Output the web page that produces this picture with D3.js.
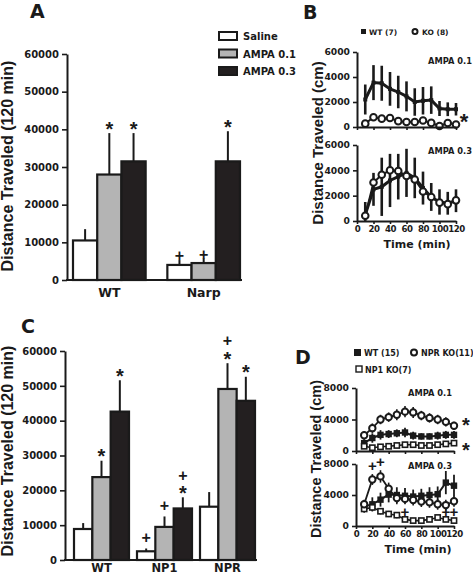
<!DOCTYPE html>
<html><head><meta charset="utf-8">
<script src="https://cdn.jsdelivr.net/npm/d3@7"></script>
<style>
body{margin:0;background:#fff}
svg{display:block}
text{font-family:"DejaVu Sans",sans-serif;font-weight:bold;fill:#1a1a1a}
text.ttl,text.sym{font-family:"Liberation Sans",Arial,sans-serif}
</style></head><body>
<svg id="c" width="473" height="576"></svg>
<script>
// ---------- DATA ----------
const treatments = ["Saline", "AMPA 0.1", "AMPA 0.3"];
const fills = ["#ffffff", "#b4b4b4", "#231f20"];

// Panel A (Narp)
const aGroups = ["WT", "Narp"];
const aSaline = [10500, 4000], aAmpa01 = [28000, 4500], aAmpa03 = [31500, 31500];
const aSalineErr = [3000, 1300], aAmpa01Err = [11000, 1200], aAmpa03Err = [7500, 8000];
const aSalineSig = ["", "+"], aAmpa01Sig = ["*", "+"], aAmpa03Sig = ["*", "*"];
const aTicks = [0, 10000, 20000, 30000, 40000, 50000, 60000];

// Panel C (NP1 / NPR)
const cGroups = ["WT", "NP1", "NPR"];
const cSaline = [8900, 2500, 15300], cAmpa01 = [23800, 9500, 49100], cAmpa03 = [42600, 14800, 45700];
const cSalineErr = [1700, 800, 4200], cAmpa01Err = [4700, 3000, 7400], cAmpa03Err = [9000, 3200, 6900];
const cSalineSig = ["", "+", ""], cAmpa01Sig = ["*", "+", "+*"], cAmpa03Sig = ["*", "+*", "*"];
const cTicks = [0, 10000, 20000, 30000, 40000, 50000, 60000];

// Time course
const times = [10, 20, 30, 40, 50, 60, 70, 80, 90, 100, 110, 120];
const timeTicks = [0, 20, 40, 60, 80, 100, 120];

// Panel B
const bTicks = [0, 2000, 4000, 6000];
const bWT01 = [2200, 3550, 3500, 3050, 2800, 2450, 2000, 2100, 2150, 1480, 1420, 1420];
const bWT01Err = [1200, 1400, 1400, 1350, 1300, 1200, 1100, 1100, 1100, 600, 550, 500];
const bKO01 = [270, 780, 670, 720, 470, 400, 400, 520, 330, 80, 320, 200];
const bKO01Err = [150, 200, 150, 150, 150, 150, 150, 150, 150, 100, 150, 100];
const bWT03 = [500, 2500, 2700, 3200, 3500, 3800, 3400, 2600, 1900, 1500, 1400, 1600];
const bWT03Err = [1000, 1300, 2300, 2100, 1800, 1900, 1600, 1300, 1100, 1000, 900, 900];
const bKO03 = [420, 3040, 3650, 4000, 3950, 3550, 3280, 2330, 1900, 1450, 1330, 1630];
const bKO03Err = [200, 300, 300, 300, 300, 300, 300, 300, 300, 300, 300, 300];
const bStarValue = 750;

// Panel D
const dTicks = [0, 4000, 8000];
const dNPR01 = [2000, 2900, 4000, 4300, 4600, 5000, 4900, 4500, 4200, 4000, 3700, 3200];
const dNPR01Err = [500, 600, 600, 600, 700, 700, 700, 600, 600, 600, 600, 500];
const dWT01 = [1000, 1650, 2050, 2150, 2250, 2350, 1950, 1850, 1850, 1950, 2050, 2050];
const dWT01Err = [500, 600, 600, 500, 500, 600, 500, 400, 400, 500, 500, 500];
const dNP101 = [600, 420, 530, 600, 700, 800, 800, 700, 700, 800, 900, 1000];
const dNP101Err = [300, 250, 250, 250, 250, 300, 300, 250, 250, 300, 300, 300];
const dNPR03 = [2800, 6000, 6400, 4800, 3600, 3500, 3350, 3150, 3050, 2800, 2700, 3200];
const dNPR03Err = [600, 700, 800, 800, 800, 700, 700, 700, 700, 700, 700, 700];
const dWT03 = [2500, 2800, 3400, 4050, 4000, 3900, 3800, 3900, 4000, 4100, 5600, 5200];
const dWT03Err = [700, 900, 900, 1000, 1000, 1000, 900, 900, 1000, 1000, 1500, 1400];
const dNP103 = [2200, 2400, 1900, 1550, 1400, 850, 700, 700, 850, 1100, 850, 700];
const dNP103Err = [500, 500, 400, 400, 400, 300, 300, 300, 300, 300, 300, 300];
const dStarValues = [3900, 700];
// significance marks in D (AMPA 0.3): time and value
const dPlusTimes = [20, 30, 60, 110, 120];
const dPlusValues = [7800, 8300, 1900, 1900, 1900];

// ---------- DRAW ----------
const svg = d3.select("#c");
const INK = "#1a1a1a";

function styleAxis(g, fs) {
  g.select(".domain").attr("stroke", INK).attr("stroke-width", 2);
  g.selectAll(".tick line").attr("stroke", INK).attr("stroke-width", 1.6);
  g.selectAll("text").style("font-size", fs + "px").attr("fill", INK);
}

function sig(g, x, yTop, str, plusGap) {
  let cur = yTop;
  const chars = str.split("").reverse();
  chars.forEach((ch, i) => {
    if (ch === "*") {
      const c = cur - 9;
      g.append("text").attr("class", "sym").attr("x", x).attr("y", c + 11.5)
        .attr("text-anchor", "middle").style("font-size", "20px").text("*");
      cur = c - 6;
    } else {
      const c = (i === 0) ? cur - plusGap : cur - 7;
      g.append("text").attr("class", "sym").attr("x", x).attr("y", c + 5.3)
        .attr("text-anchor", "middle").style("font-size", "16px").text("+");
      cur = c - 6;
    }
  });
}

function barPanel(groups, means, errs, sigs, yDom, yRange, xRange, padIn, axisX, ticks, labelY, labelFs, plusGap) {
  const g = svg.append("g");
  const y = d3.scaleLinear().domain(yDom).range(yRange);
  const x0 = d3.scaleBand().domain(groups).range(xRange).paddingInner(padIn);
  const x1 = d3.scaleBand().domain(treatments).range([0, x0.bandwidth()]);
  treatments.forEach((t, ti) => {
    groups.forEach((grp, gi) => {
      const v = means[ti][gi], e = errs[ti][gi];
      const xc = x0(grp) + x1(t) + x1.bandwidth() / 2;
      g.append("line").attr("x1", xc).attr("x2", xc).attr("y1", y(v)).attr("y2", y(v + e))
        .attr("stroke", INK).attr("stroke-width", 2);
      g.append("rect").attr("x", x0(grp) + x1(t)).attr("width", x1.bandwidth())
        .attr("y", y(v)).attr("height", y(0) - y(v))
        .attr("fill", fills[ti]).attr("stroke", INK).attr("stroke-width", 2.2);
      if (sigs[ti][gi]) sig(g, xc, y(v + e), sigs[ti][gi], plusGap);
    });
  });
  const ya = g.append("g").attr("transform", `translate(${axisX},0)`)
    .call(d3.axisLeft(y).tickValues(ticks).tickSize(5).tickSizeOuter(0).tickFormat(d3.format("d")));
  styleAxis(ya, 10);
  g.append("line").attr("x1", axisX - 1).attr("x2", xRange[1] + 2).attr("y1", y(0)).attr("y2", y(0))
    .attr("stroke", INK).attr("stroke-width", 2.2);
  groups.forEach(grp => {
    g.append("text").attr("x", x0(grp) + x0.bandwidth() / 2).attr("y", labelY)
      .attr("text-anchor", "middle").style("font-size", labelFs + "px").text(grp);
  });
  return g;
}

// Panel A
barPanel(aGroups, [aSaline, aAmpa01, aAmpa03], [aSalineErr, aAmpa01Err, aAmpa03Err],
  [aSalineSig, aAmpa01Sig, aAmpa03Sig], [0, 60000], [280, 54], [73, 240], 0.23, 67, aTicks, 297, 12.5, 4);
svg.append("text").attr("class", "ttl").attr("transform", "translate(13,166) rotate(-90)")
  .attr("text-anchor", "middle").style("font-size", "16px").text("Distance Traveled (120 min)");
svg.append("text").attr("x", 30).attr("y", 18).style("font-size", "19px").text("A");
treatments.forEach((t, i) => {
  const cy = 36 + i * 17.5;
  svg.append("rect").attr("x", 219).attr("y", cy - 4).attr("width", 18).attr("height", 8)
    .attr("fill", fills[i]).attr("stroke", INK).attr("stroke-width", 2);
  svg.append("text").attr("x", 243).attr("y", cy + 4).style("font-size", "10px").text(t);
});

// Panel C
barPanel(cGroups, [cSaline, cAmpa01, cAmpa03], [cSalineErr, cAmpa01Err, cAmpa03Err],
  [cSalineSig, cAmpa01Sig, cAmpa03Sig], [0, 60000], [560, 351], [74, 255], 0.127, 65, cTicks, 572, 11.5, 11);
svg.append("text").attr("class", "ttl").attr("transform", "translate(13,451) rotate(-90)")
  .attr("text-anchor", "middle").style("font-size", "16px").text("Distance Traveled (120 min)");
svg.append("text").attr("x", 21).attr("y", 333).style("font-size", "19px").text("C");

// ---------- time-course panels ----------
function marker(g, type, x, y, sz) {
  if (type === "circle") {
    g.append("circle").attr("cx", x).attr("cy", y).attr("r", sz)
      .attr("fill", "#fff").attr("stroke", INK).attr("stroke-width", 2);
  } else if (type === "fsquare") {
    g.append("rect").attr("x", x - sz).attr("y", y - sz).attr("width", 2 * sz).attr("height", 2 * sz)
      .attr("fill", INK);
  } else if (type === "osquare") {
    g.append("rect").attr("x", x - sz).attr("y", y - sz).attr("width", 2 * sz).attr("height", 2 * sz)
      .attr("fill", "#fff").attr("stroke", INK).attr("stroke-width", 1.6);
  }
}

function timeSub(x, y, ticks, showLabels, series, fs) {
  const g = svg.append("g");
  series.forEach(s => {
    times.forEach((t, i) => {
      g.append("line").attr("x1", x(t)).attr("x2", x(t))
        .attr("y1", y(Math.max(0, s.m[i] - s.e[i]))).attr("y2", y(s.m[i] + s.e[i]))
        .attr("stroke", INK).attr("stroke-width", s.ew);
    });
  });
  series.forEach(s => {
    g.append("path").datum(s.m)
      .attr("d", d3.line().x((d, i) => x(times[i])).y(d => y(d)))
      .attr("fill", "none").attr("stroke", INK).attr("stroke-width", s.lw);
  });
  series.forEach(s => {
    times.forEach((t, i) => marker(g, s.type, x(t), y(s.m[i]), s.sz));
  });
  const ya = g.append("g").attr("transform", `translate(${x(0)},0)`)
    .call(d3.axisLeft(y).tickValues(ticks).tickSize(4).tickSizeOuter(0).tickFormat(d3.format("d")));
  styleAxis(ya, 9.2);
  const xa = g.append("g").attr("transform", `translate(0,${y(0)})`)
    .call(d3.axisBottom(x).tickValues(timeTicks).tickSize(3).tickSizeOuter(0)
      .tickFormat(showLabels ? d3.format("d") : ""));
  styleAxis(xa, 8.6);
  xa.selectAll("text").attr("dy", "0.55em").style("letter-spacing", "-0.45px");
  return g;
}

// Panel B
const xB = d3.scaleLinear().domain([0, 120]).range([357, 456]);
const yB1 = d3.scaleLinear().domain([0, 6000]).range([127, 52]);
const yB2 = d3.scaleLinear().domain([0, 6000]).range([221, 145]);
timeSub(xB, yB1, bTicks, false, [
  { m: bWT01, e: bWT01Err, type: "fsquare", sz: 2, lw: 3, ew: 2.6 },
  { m: bKO01, e: bKO01Err, type: "circle", sz: 3.3, lw: 2, ew: 1.5 }
]);
timeSub(xB, yB2, bTicks, true, [
  { m: bWT03, e: bWT03Err, type: "fsquare", sz: 2, lw: 3, ew: 2.6 },
  { m: bKO03, e: bKO03Err, type: "circle", sz: 3.3, lw: 2, ew: 1.5 }
]);
svg.append("text").attr("x", 303).attr("y", 19).style("font-size", "19px").text("B");
svg.append("text").attr("class", "ttl").attr("transform", "translate(323,143) rotate(-90)")
  .attr("text-anchor", "middle").style("font-size", "15px").text("Distance Traveled (cm)");
svg.append("text").attr("x", 417).attr("y", 248).attr("text-anchor", "middle")
  .style("font-size", "11px").text("Time (min)");
svg.append("text").attr("x", 472).attr("y", 64).attr("text-anchor", "end").style("font-size", "8.3px").text("AMPA 0.1");
svg.append("text").attr("x", 472).attr("y", 154).attr("text-anchor", "end").style("font-size", "8.3px").text("AMPA 0.3");
svg.append("text").attr("class", "sym").attr("x", 464).attr("y", yB1(bStarValue) + 11).attr("text-anchor", "middle")
  .style("font-size", "22px").text("*");
svg.append("rect").attr("x", 361).attr("y", 29).attr("width", 5).attr("height", 5).attr("fill", INK);
svg.append("text").attr("x", 369).attr("y", 34.5).style("font-size", "7.5px").text("WT (7)");
svg.append("circle").attr("cx", 415).attr("cy", 31.5).attr("r", 2.5).attr("fill", "#fff").attr("stroke", INK).attr("stroke-width", 2);
svg.append("text").attr("x", 422).attr("y", 34.5).style("font-size", "7.5px").text("KO (8)");

// Panel D
const xD = d3.scaleLinear().domain([0, 120]).range([356, 454]);
const yD1 = d3.scaleLinear().domain([0, 8000]).range([451, 388]);
const yD2 = d3.scaleLinear().domain([0, 8000]).range([526, 464]);
timeSub(xD, yD1, dTicks, false, [
  { m: dWT01, e: dWT01Err, type: "fsquare", sz: 3.2, lw: 2, ew: 1.8 },
  { m: dNP101, e: dNP101Err, type: "osquare", sz: 2.6, lw: 1.6, ew: 1.5 },
  { m: dNPR01, e: dNPR01Err, type: "circle", sz: 3.2, lw: 1.8, ew: 1.6 }
]);
timeSub(xD, yD2, dTicks, true, [
  { m: dWT03, e: dWT03Err, type: "fsquare", sz: 3.2, lw: 2, ew: 1.8 },
  { m: dNP103, e: dNP103Err, type: "osquare", sz: 2.6, lw: 1.6, ew: 1.5 },
  { m: dNPR03, e: dNPR03Err, type: "circle", sz: 3.2, lw: 1.8, ew: 1.6 }
]);
dPlusTimes.forEach((t, i) => {
  svg.append("text").attr("class", "sym").attr("x", xD(t)).attr("y", yD2(dPlusValues[i]) + 5.3)
    .attr("text-anchor", "middle").style("font-size", "15px").text("+");
});
svg.append("text").attr("x", 295).attr("y", 364).style("font-size", "19px").text("D");
svg.append("text").attr("class", "ttl").attr("transform", "translate(321,459) rotate(-90)")
  .attr("text-anchor", "middle").style("font-size", "14.5px").text("Distance Traveled (cm)");
svg.append("text").attr("x", 418).attr("y", 553).attr("text-anchor", "middle")
  .style("font-size", "11px").text("Time (min)");
svg.append("text").attr("x", 452).attr("y", 396).attr("text-anchor", "end").style("font-size", "8.3px").text("AMPA 0.1");
svg.append("text").attr("x", 452).attr("y", 469).attr("text-anchor", "end").style("font-size", "8.3px").text("AMPA 0.3");
dStarValues.forEach(v => {
  svg.append("text").attr("class", "sym").attr("x", 466).attr("y", yD1(v) + 12).attr("text-anchor", "middle")
    .style("font-size", "20px").text("*");
});
svg.append("rect").attr("x", 354).attr("y", 349).attr("width", 7).attr("height", 7).attr("fill", INK);
svg.append("text").attr("x", 364).attr("y", 355.5).style("font-size", "8px").text("WT (15)");
svg.append("circle").attr("cx", 414).attr("cy", 352.5).attr("r", 3).attr("fill", "#fff").attr("stroke", INK).attr("stroke-width", 2);
svg.append("text").attr("x", 421).attr("y", 355.5).style("font-size", "8px").text("NPR KO(11)");
svg.append("rect").attr("x", 356).attr("y", 366).attr("width", 6).attr("height", 6).attr("fill", "#fff").attr("stroke", INK).attr("stroke-width", 1.4);
svg.append("text").attr("x", 365).attr("y", 372.5).style("font-size", "8px").text("NP1 KO(7)");
</script>
</body></html>
